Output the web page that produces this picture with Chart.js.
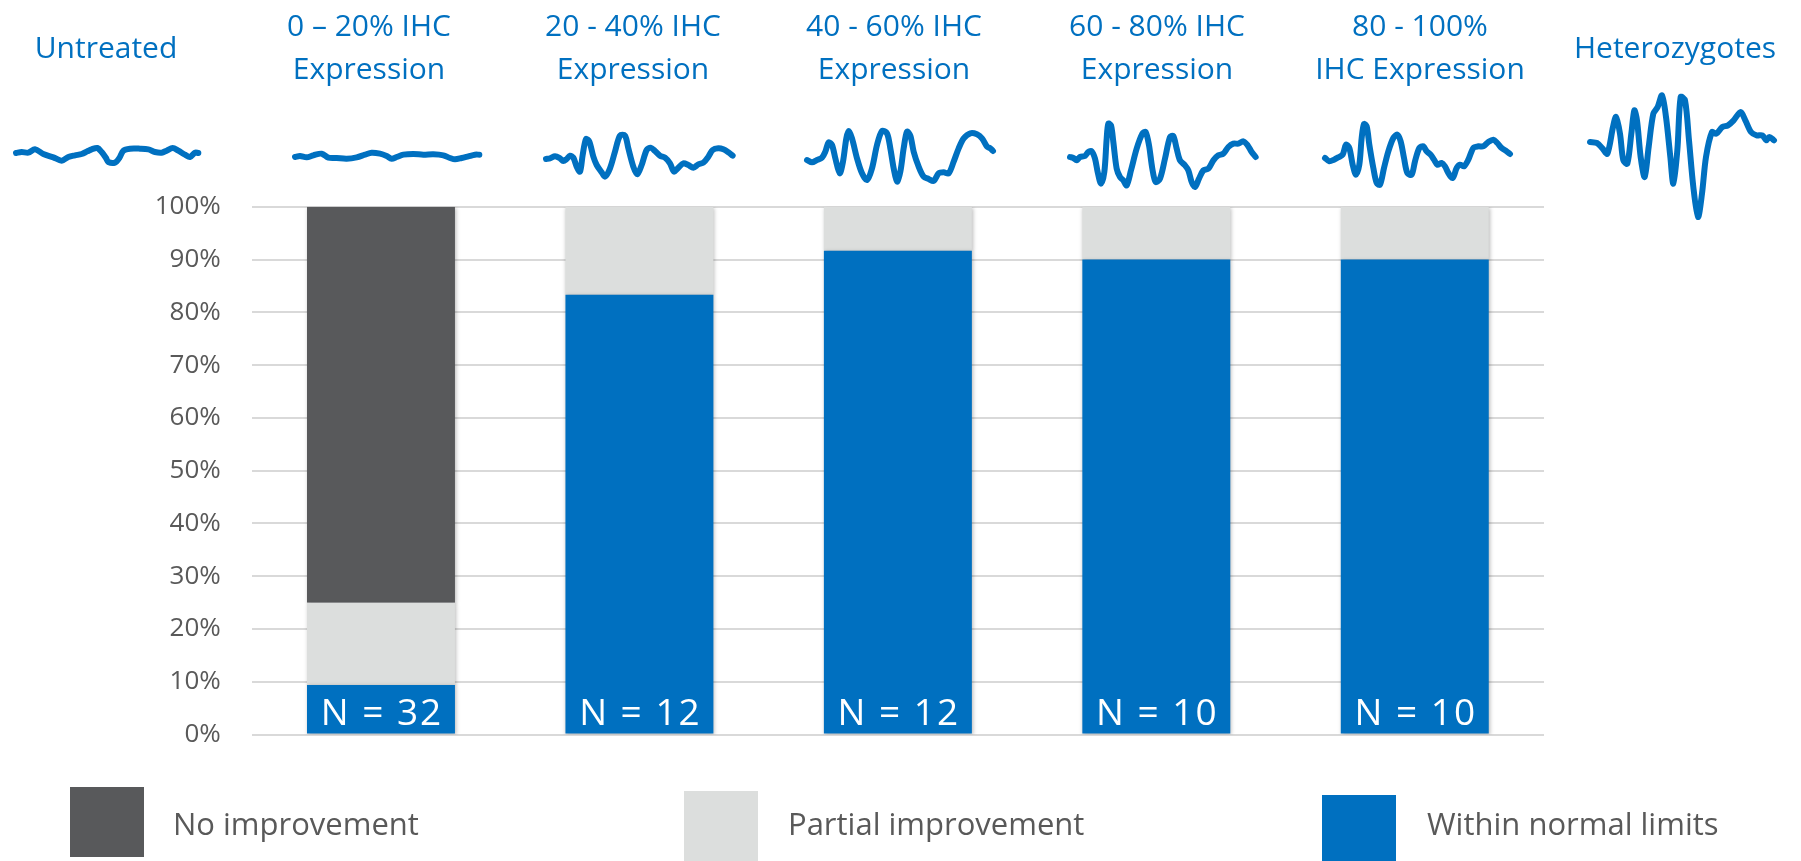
<!DOCTYPE html>
<html>
<head>
<meta charset="utf-8">
<script src="https://cdn.jsdelivr.net/npm/chart.js@4.4.1/dist/chart.umd.min.js"></script>
<style>
  html, body { margin: 0; padding: 0; background: #ffffff; }
  #stage { position: relative; width: 1801px; height: 861px; overflow: hidden; font-family: "Open Sans", sans-serif; }
  #main { position: absolute; left: 0; top: 0; }
  .hdr { position: absolute; top: 0; height: 92px; width: 270px; display: flex; align-items: center; justify-content: center;
         text-align: center; color: #0070C0; font-size: 30px; line-height: 43px; white-space: pre; transform: translateX(-50%); }
  .trace { position: absolute; }
  .sw { position: absolute; width: 74px; height: 70px; }
  .lg { position: absolute; color: #595959; font-size: 31px; line-height: 40px; white-space: pre; }
</style>
</head>
<body>
<div id="stage">
  <canvas id="main" width="1801" height="861"></canvas>
</div>
<script>
// ---- Response groups (IHC expression bins) ----
const categories = ['0 – 20% IHC Expression', '20 - 40% IHC Expression', '40 - 60% IHC Expression',
                    '60 - 80% IHC Expression', '80 - 100% IHC Expression'];
const totalN       = [32, 12, 12, 10, 10];
const normalCount  = [3, 10, 11, 9, 9];    // within normal limits
const partialCount = [5, 2, 1, 1, 1];      // partial improvement
const noneCount    = [24, 0, 0, 0, 0];     // no improvement

const seriesNames  = ['Within normal limits', 'Partial improvement', 'No improvement'];
const seriesColors = ['#0070C0', '#DCDEDD', '#58595B'];

// Column headers above the waveforms (untreated, five bins, heterozygotes)
const headerLines = [
  ['Untreated'],
  ['0 – 20% IHC', 'Expression'],
  ['20 - 40% IHC', 'Expression'],
  ['40 - 60% IHC', 'Expression'],
  ['60 - 80% IHC', 'Expression'],
  ['80 - 100%', 'IHC Expression'],
  ['Heterozygotes']
];

// Representative recordings for each column: [time, amplitude] samples
const waveUntreated = [[0,0],[17,3],[37,1],[57,11],[82,-3],[112,-13],[137,-23],[157,-12],[177,-7],[197,-3],[214,5],[227,11],[244,15],[257,3],[270,-15],[277,-27],[297,-29],[310,-15],[322,7],[342,13],[372,13],[397,11],[417,3],[437,1],[452,7],[470,15],[487,7],[507,-5],[522,-12],[537,1],[547,0]];
const wave0to20 = [[0,0],[15,3],[35,-1],[55,5],[80,10],[100,-2],[125,-3],[155,-5],[185,-1],[210,7],[230,13],[255,10],[275,3],[290,-5],[305,0],[325,7],[355,9],[385,7],[415,8],[445,5],[465,-3],[480,-7],[500,-3],[520,2],[540,7],[553,7]];
const wave20to40 = [[0,0],[12,2],[27,8],[42,2],[52,-6],[62,0],[72,10],[82,4],[92,-23],[102,-38],[110,12],[120,60],[130,52],[142,7],[152,-18],[167,-40],[177,-53],[192,-28],[207,22],[222,70],[237,70],[247,32],[262,-23],[274,-46],[287,-18],[302,27],[314,34],[327,24],[342,10],[357,4],[372,-13],[384,-38],[397,-26],[412,-13],[427,-18],[442,-26],[457,-16],[472,-11],[487,7],[500,27],[517,32],[532,29],[547,20],[560,10]];
const wave40to60 = [[0,0],[15,-7],[30,0],[45,7],[55,25],[65,53],[75,45],[85,5],[98,-40],[108,-5],[118,65],[125,87],[135,65],[150,5],[165,-40],[180,-60],[195,-25],[210,45],[225,87],[240,80],[250,35],[260,-25],[270,-65],[280,-35],[290,35],[300,85],[310,73],[320,25],[335,-20],[350,-50],[365,-57],[380,-63],[395,-40],[410,-37],[425,-40],[440,-5],[455,35],[470,65],[490,80],[510,77],[525,65],[540,40],[550,35],[558,27]];
const wave60to80 = [[0,0],[10,-3],[20,-10],[30,0],[45,3],[55,15],[65,17],[75,-5],[83,-45],[93,-80],[103,-45],[110,55],[115,100],[123,95],[130,45],[140,-35],[150,-60],[160,-70],[170,-85],[183,-40],[200,25],[217,70],[227,75],[237,35],[247,-35],[257,-75],[270,-65],[285,-5],[300,60],[310,63],[320,25],[330,-10],[345,-25],[355,-40],[365,-75],[375,-90],[387,-65],[400,-40],[415,-35],[430,-10],[445,5],[460,10],[475,30],[490,40],[505,40],[520,47],[533,35],[545,15],[557,0]];
const wave80to100 = [[0,0],[13,-10],[27,-5],[40,2],[53,10],[63,40],[73,30],[83,-20],[93,-50],[103,-20],[110,60],[117,102],[125,95],[133,40],[145,-30],[155,-75],[165,-80],[177,-30],[190,20],[205,60],[217,70],[227,50],[237,0],[247,-45],[260,-50],[270,-10],[283,30],[295,35],[305,20],[317,10],[327,-5],[337,-20],[350,-15],[360,-25],[370,-45],[383,-60],[395,-30],[405,-20],[417,-25],[430,-5],[445,30],[460,35],[475,35],[490,48],[505,55],[517,45],[530,30],[545,20],[555,12]];
const waveHeterozygote = [[0,0],[21,-3],[38,-20],[52,-35],[69,45],[78,75],[90,25],[100,-55],[112,-65],[124,25],[133,95],[141,65],[152,-45],[164,-105],[176,-15],[190,85],[203,105],[216,140],[228,75],[241,-45],[250,-125],[262,-25],[272,135],[285,125],[297,5],[310,-135],[324,-225],[336,-155],[348,-45],[366,30],[379,25],[397,45],[414,50],[431,65],[452,90],[466,65],[483,30],[500,20],[517,20],[529,5],[538,15],[552,5]];

// ---- Page layout (pixels) ----
const headerCenters = [106, 369, 633, 894, 1157, 1420, 1675];
const traceSeries   = [waveUntreated, wave0to20, wave20to40, wave40to60, wave60to80, wave80to100, waveHeterozygote];
const traceOrigin   = [[16,153.3],[295,156.7],[546,159],[806.7,160],[1070,156.7],[1325,158.3],[1589.7,141.7]];
const legendSpots   = [ {sw:[70,787], tx:173}, {sw:[684,791], tx:788}, {sw:[1322,795], tx:1427} ];

const stage = document.getElementById('stage');

// Column headers
headerLines.forEach((lines, i) => {
  const d = document.createElement('div');
  d.className = 'hdr';
  d.style.left = headerCenters[i] + 'px';
  d.textContent = lines.join('\n');
  stage.appendChild(d);
});

// Stacked percentage bars
const pct = (arr) => arr.map((v, i) => v / totalN[i] * 100);
const stackValues = [pct(normalCount), pct(partialCount), pct(noneCount)];

const barShadow = {
  id: 'barShadow',
  beforeDatasetsDraw(chart) {
    const ctx = chart.ctx;
    ctx.save();
    ctx.shadowColor = 'rgba(0,0,0,0.28)';
    ctx.shadowBlur = 4;
    ctx.shadowOffsetX = 1;
    ctx.shadowOffsetY = 1;
  },
  afterDatasetsDraw(chart) { chart.ctx.restore(); }
};

const nLabels = {
  id: 'nLabels',
  afterDatasetsDraw(chart) {
    const meta = chart.getDatasetMeta(0);
    const ctx = chart.ctx;
    ctx.save();
    ctx.fillStyle = '#ffffff';
    ctx.font = '37px "Open Sans", sans-serif';
    ctx.textAlign = 'center';
    ctx.textBaseline = 'alphabetic';
    ctx.letterSpacing = '2px';
    meta.data.forEach((bar, i) => {
      ctx.fillText('N = ' + totalN[i], bar.x + 1, bar.base - 9);
    });
    ctx.restore();
  }
};

const mainChart = new Chart(document.getElementById('main'), {
  type: 'bar',
  data: {
    labels: categories,
    datasets: seriesNames.map((name, k) => ({
      label: name,
      data: stackValues[k],
      backgroundColor: seriesColors[k],
      borderWidth: 0,
      barPercentage: 0.5725,
      categoryPercentage: 1
    }))
  },
  options: {
    responsive: false,
    animation: false,
    layout: { padding: { left: 0, top: 206.8, right: 257, bottom: 126.4 } },
    plugins: { legend: { display: false }, tooltip: { enabled: false } },
    scales: {
      x: { stacked: true, display: false },
      y: {
        stacked: true, min: 0, max: 100,
        border: { display: false },
        grid: { color: '#D9D9D9', lineWidth: 2, drawTicks: false },
        ticks: {
          stepSize: 10, padding: 31, color: '#595959',
          font: { family: '"Open Sans", sans-serif', size: 26 },
          callback: (v) => v + '%'
        },
        afterFit: (s) => { s.width = 251.75; }
      }
    }
  },
  plugins: [barShadow, nLabels]
});

// Legend, in stacking order from top to bottom
mainChart.data.datasets.slice().reverse().forEach((ds, i) => {
  const spot = legendSpots[i];
  const sw = document.createElement('div');
  sw.className = 'sw';
  sw.style.left = spot.sw[0] + 'px';
  sw.style.top = spot.sw[1] + 'px';
  sw.style.background = ds.backgroundColor;
  stage.appendChild(sw);
  const tx = document.createElement('div');
  tx.className = 'lg';
  tx.style.left = spot.tx + 'px';
  tx.style.top = '803px';
  tx.textContent = ds.label;
  stage.appendChild(tx);
});

// Waveform traces: each a small line chart, 3 data units per pixel
traceSeries.forEach((wave, i) => {
  const cv = document.createElement('canvas');
  cv.className = 'trace';
  cv.width = 220; cv.height = 160;
  cv.style.left = (traceOrigin[i][0] - 10) + 'px';
  cv.style.top = (traceOrigin[i][1] - 80) + 'px';
  stage.appendChild(cv);
  new Chart(cv, {
    type: 'line',
    data: { datasets: [{
      data: wave.map(([t, v]) => ({ x: t, y: v })),
      borderColor: '#0070C0', borderWidth: 6, pointRadius: 0,
      tension: 0.3, borderCapStyle: 'round', borderJoinStyle: 'round', fill: false
    }] },
    options: {
      responsive: false, animation: false,
      layout: { padding: 0 },
      plugins: { legend: { display: false }, tooltip: { enabled: false } },
      scales: {
        x: { type: 'linear', min: -30, max: 630, display: false },
        y: { min: -240, max: 240, display: false }
      }
    }
  });
});
</script>
</body>
</html>
